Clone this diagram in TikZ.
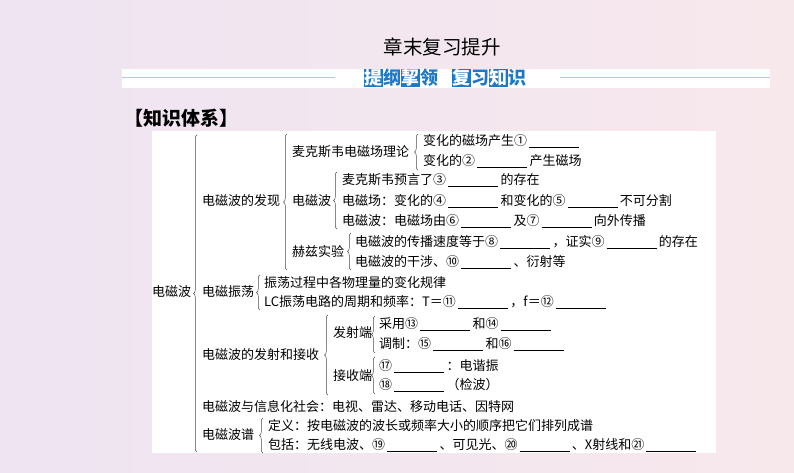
\documentclass[tikz,border=0pt]{standalone}
\usepackage{fontspec}
\setmainfont{Noto Sans CJK SC}
\usetikzlibrary{decorations.pathreplacing}
\definecolor{hblue}{RGB}{30,120,200}
\definecolor{hline}{RGB}{170,205,230}
\newcommand{\bl}{\,\rule[-2pt]{50pt}{0.7pt}\,}
\newcommand{\bx}[1]{\colorbox{hblue}{\textcolor{white}{#1}}}
\tikzset{
  t/.style={anchor=west,inner sep=0pt,font=\fontsize{13}{15}\selectfont},
  br/.style={draw=black!70,line width=0.5pt,decorate,decoration={brace,amplitude=3.5pt}}
}
\begin{document}
\begin{tikzpicture}[x=1pt,y=-1pt]
\useasboundingbox (0,0) rectangle (794,473);
\shade[left color={rgb,255:red,238;green,228;blue,242},right color={rgb,255:red,247;green,232;blue,236}] (0,0) rectangle (794,473);
\fill[white] (122,69) rectangle (770,88);
\fill[white] (152,131) rectangle (716,453);
\node[font=\fontsize{19.5}{22}\selectfont] (title) at (442,47) {章末复习提升};
\node[font=\fontsize{18}{20}\selectfont\bfseries,inner sep=0pt,text=hblue] (head) at (445,78) {\setlength{\fboxsep}{0.5pt}\bx{提}纲\bx{挈}领\hspace{14pt}\bx{复}习\bx{知}识};
\coordinate (l1) at (122,78); \coordinate (r1) at (770,78);
\draw[hline,line width=1pt] (l1) -- (head.west -| 335,0);
\draw[hline,line width=1pt] (head.east -| 560,0) -- (r1);
\node[anchor=west,inner sep=0pt,font=\fontsize{19}{21}\selectfont\bfseries] (ks) at (124,118) {【知识体系】};
% level 0
\node[t] (emw) at (152,292) {电磁波};
\draw[br] (197,452) -- (197,135);
% discovery
\node[t] (fx) at (202,201) {电磁波的发现};
\draw[br] (287,270) -- (287,134);
\node[t] (mk) at (292,152) {麦克斯韦电磁场理论};
\draw[br] (418,170) -- (418,134);
\node[t] (a1) at (423,141) {变化的磁场产生①\bl};
\node[t] (a2) at (423,161) {变化的②\bl 产生磁场};
\node[t] (dc) at (292,201) {电磁波};
\draw[br] (337,229) -- (337,172);
\node[t] (b1) at (342,180) {麦克斯韦预言了③\bl 的存在};
\node[t] (b2) at (342,201) {电磁场：变化的④\bl 和变化的⑤\bl 不可分割};
\node[t] (b3) at (342,221) {电磁波：电磁场由⑥\bl 及⑦\bl 向外传播};
\node[t] (hz) at (292,252) {赫兹实验};
\draw[br] (351,270) -- (351,233);
\node[t] (c1) at (355,242) {电磁波的传播速度等于⑧\bl ，证实⑨\bl 的存在};
\node[t] (c2) at (355,262) {电磁波的干涉、⑩\bl 、衍射等};
% oscillation
\node[t] (zd) at (202,292) {电磁振荡};
\draw[br] (260,310) -- (260,275);
\node[t] (d1) at (264,283) {振荡过程中各物理量的变化规律};
\node[t] (d2) at (264,302) {LC振荡电路的周期和频率：T＝⑪\bl ，\textit{f}＝⑫\bl};
% transmit/receive
\node[t] (fs) at (202,355) {电磁波的发射和接收};
\draw[br] (328,395) -- (328,315);
\node[t] (fsd) at (333,333) {发射端};
\draw[br] (375,353) -- (375,316);
\node[t] (e1) at (379,324) {采用⑬\bl 和⑭\bl};
\node[t] (e2) at (379,344) {调制：⑮\bl 和⑯\bl};
\node[t] (jsd) at (333,376) {接收端};
\draw[br] (375,394) -- (375,357);
\node[t] (f1) at (379,366) {⑰\bl ：电谐振};
\node[t] (f2) at (379,385) {⑱\bl （检波）};
\node[t] (xx) at (202,407) {电磁波与信息化社会：电视、雷达、移动电话、因特网};
% spectrum
\node[t] (pu) at (202,435) {电磁波谱};
\draw[br] (263,453) -- (263,418);
\node[t] (g1) at (268,426) {定义：按电磁波的波长或频率大小的顺序把它们排列成谱};
\node[t] (g2) at (268,445) {包括：无线电波、⑲\bl 、可见光、⑳\bl 、X射线和㉑\bl};
\end{tikzpicture}
\end{document}
